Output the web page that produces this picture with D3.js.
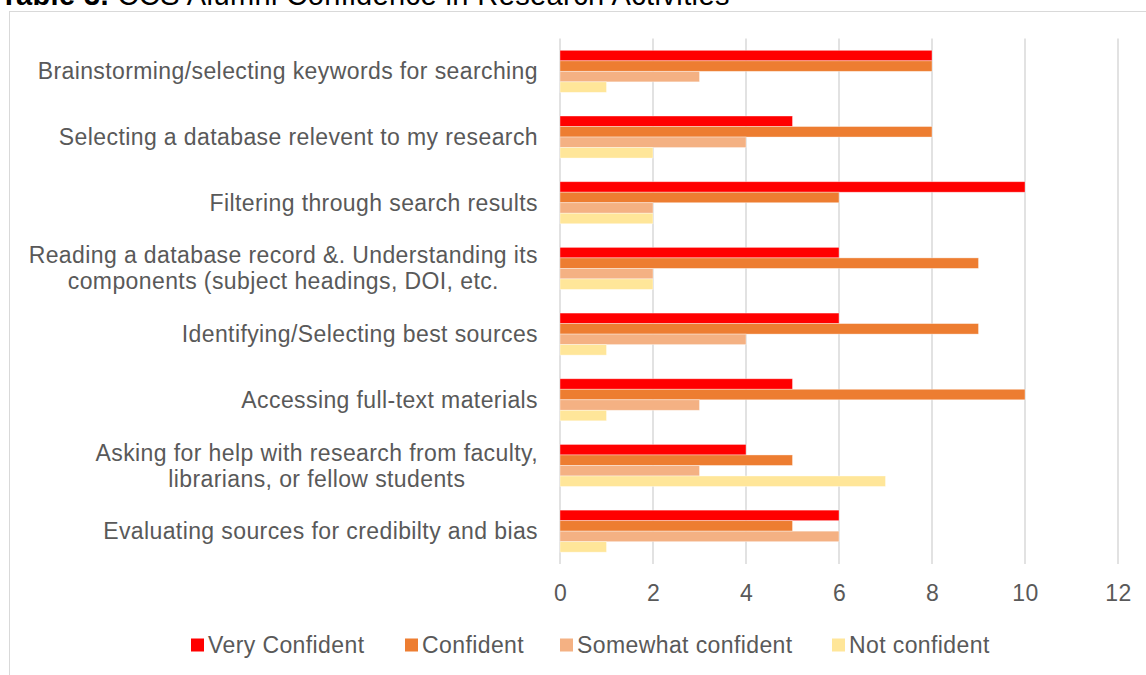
<!DOCTYPE html>
<html>
  <head>
    <meta charset="utf-8">
    <title>CCS Alumni Confidence in Research Activities</title>
    <script src="https://d3js.org/d3.v7.min.js"></script>
    <style>
      body { margin: 0; background: #fff; }
      svg { display: block; font-family: "Liberation Sans", Arial, sans-serif; }
    </style>
  </head>
  <body>
  <script>
  // data
    var categories = [
      ["Brainstorming/selecting keywords for searching"],
      ["Selecting a database relevent to my research"],
      ["Filtering through search results"],
      ["Reading a database record &. Understanding its", "components (subject headings, DOI, etc."],
      ["Identifying/Selecting best sources"],
      ["Accessing full-text materials"],
      ["Asking for help with research from faculty,", "librarians, or fellow students"],
      ["Evaluating sources for credibilty and bias"]
    ];
    var seriesNames = ["Very Confident", "Confident", "Somewhat confident", "Not confident"];
    var veryConfident = [8, 5, 10, 6, 6, 5, 4, 6];
    var confident = [8, 8, 6, 9, 9, 10, 5, 5];
    var somewhatConfident = [3, 4, 2, 2, 4, 3, 3, 6];
    var notConfident = [1, 2, 2, 2, 1, 1, 7, 1];
    var xTicks = [0, 2, 4, 6, 8, 10, 12];

    var colors = ["#FF0000", "#ED7D31", "#F4B183", "#FFE699"];
    var seriesValues = [veryConfident, confident, somewhatConfident, notConfident];

  // basic setting
    var width = 1146, height = 675;
    var plot = {left: 560, right: 1118, top: 38.5, bottom: 564};
    var fontSize = 23, spacing = "0.4px", textColor = "#595959";

    var svg = d3.select("body").append("svg")
      .attr("width", width)
      .attr("height", height);

    // title (cut off at the top like the source)
    var title = svg.append("text")
      .attr("x", 0)
      .attr("y", 5)
      .attr("font-size", 29)
      .attr("letter-spacing", spacing)
      .attr("fill", "#000");
    title.append("tspan").attr("font-weight", "bold").text("Table 3.");
    title.append("tspan").text(" CCS Alumni Confidence in Research Activities");

    // chart border
    svg.append("rect")
      .attr("x", 9.5).attr("y", 11.5)
      .attr("width", 1200).attr("height", 700)
      .attr("fill", "none")
      .attr("stroke", "#d9d9d9")
      .attr("stroke-width", 1);

    var x = d3.scaleLinear().domain([0, 12]).range([plot.left, plot.right]);

    var y = d3.scaleBand()
      .domain(d3.range(categories.length))
      .range([plot.top, plot.bottom])
      .paddingInner(0.36)
      .paddingOuter(0.18);

    var ySub = d3.scaleBand()
      .domain(d3.range(seriesNames.length))
      .range([0, y.bandwidth()]);

    // gridlines
    svg.append("g")
      .attr("class", "grid")
      .selectAll("line")
      .data(xTicks)
      .enter()
      .append("line")
      .attr("x1", function(d) { return x(d); })
      .attr("x2", function(d) { return x(d); })
      .attr("y1", plot.top)
      .attr("y2", plot.bottom)
      .attr("stroke", "#d9d9d9")
      .attr("stroke-width", 1.5);

    // x axis labels
    var xAxis = d3.axisBottom(x).tickValues(xTicks).tickSize(0).tickPadding(0);
    var gx = svg.append("g")
      .attr("transform", "translate(0," + 593 + ")")
      .call(xAxis);
    gx.select(".domain").remove();
    gx.selectAll("text")
      .attr("font-size", fontSize)
      .attr("letter-spacing", spacing)
      .attr("font-family", "Liberation Sans, Arial, sans-serif")
      .attr("fill", textColor)
      .attr("dy", "0.35em")
      .attr("y", 0);

    // bars
    var groups = svg.append("g")
      .selectAll("g")
      .data(categories)
      .enter()
      .append("g")
      .attr("transform", function(d, i) { return "translate(0," + y(i) + ")"; });

    groups.selectAll("rect")
      .data(function(d, i) {
        return seriesValues.map(function(s, j) { return {s: j, value: s[i]}; });
      })
      .enter()
      .append("rect")
      .attr("x", x(0))
      .attr("y", function(d) { return ySub(d.s); })
      .attr("width", function(d) { return x(d.value) - x(0); })
      .attr("height", ySub.bandwidth())
      .attr("fill", function(d) { return colors[d.s]; })
      .attr("stroke", "#fff")
      .attr("stroke-opacity", 0.45)
      .attr("stroke-width", 0.8);

    // category labels
    var labels = svg.append("g")
      .selectAll("text")
      .data(categories)
      .enter()
      .append("text")
      .attr("text-anchor", function(d) { return d.length > 1 ? "middle" : "end"; })
      .attr("font-size", fontSize)
      .attr("letter-spacing", spacing)
      .attr("fill", textColor);

    labels.each(function(d, i) {
      var cy = y(i) + y.bandwidth() / 2;
      var t = d3.select(this);
      var lineH = 26;
      var start = cy - (d.length - 1) * lineH / 2;
      d.forEach(function(line, k) {
        t.append("tspan")
          .attr("x", d.length > 1 ? 0 : 538)
          .attr("y", start + k * lineH)
          .attr("dy", "0.35em")
          .text(line);
      });
      if (d.length > 1) {
        // center multi-line labels on the widest line, right edge at 538
        var w = d3.max(t.selectAll("tspan").nodes(), function(n) { return n.getComputedTextLength(); });
        t.selectAll("tspan").attr("x", 538 - w / 2);
      }
    });

    // legend
    var legendX = [191, 405, 560, 832];
    var legend = svg.append("g")
      .selectAll("g")
      .data(seriesNames)
      .enter()
      .append("g")
      .attr("transform", function(d, i) { return "translate(" + legendX[i] + ",645)"; });

    legend.append("rect")
      .attr("x", 0).attr("y", -6.5)
      .attr("width", 13).attr("height", 13)
      .attr("fill", function(d, i) { return colors[i]; });

    legend.append("text")
      .attr("x", 17)
      .attr("dy", "0.35em")
      .attr("font-size", fontSize)
      .attr("letter-spacing", spacing)
      .attr("fill", textColor)
      .text(function(d) { return d; });
  </script>
  </body>
</html>
